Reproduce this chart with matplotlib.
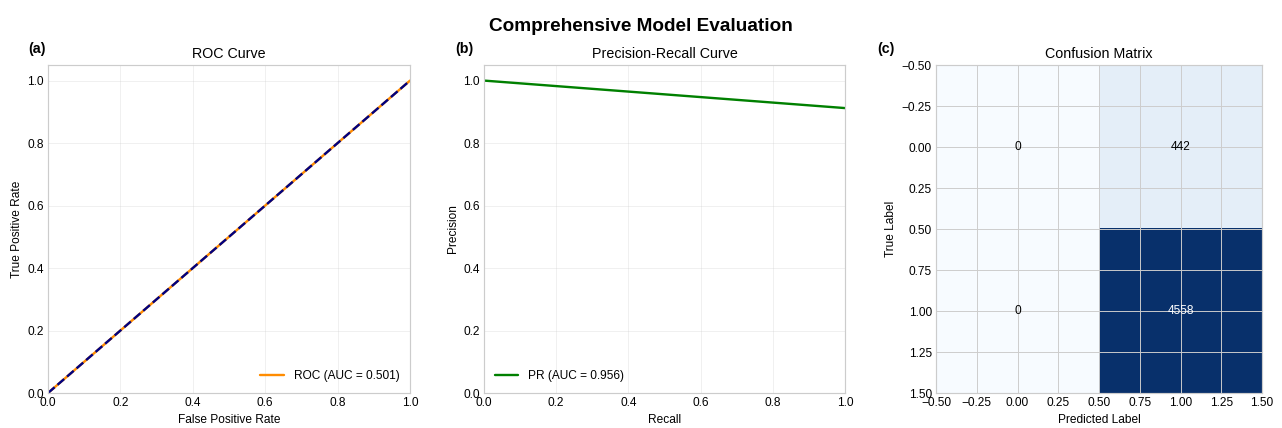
import matplotlib
matplotlib.use("Agg")
import matplotlib.pyplot as plt
import numpy as np

# data
fpr = [0.0, 1.0]
tpr = [0.0, 1.0]
roc_auc = 0.501

recall = [0.0, 1.0]
precision = [1.0, 0.912]
pr_auc = 0.956

cm = np.array([[0, 442],
               [0, 4558]])

plt.style.use("seaborn-v0_8-whitegrid")
plt.rcParams["font.family"] = ["Liberation Sans", "DejaVu Sans"]
plt.rcParams["text.color"] = "black"
plt.rcParams["axes.labelcolor"] = "black"
plt.rcParams["xtick.color"] = "black"
plt.rcParams["ytick.color"] = "black"

fig = plt.figure(figsize=(15, 5.008), dpi=85.47)
W, H = 1282, 428

def box(l, r, t, b):
    return [l / W, 1 - b / H, (r - l) / W, (b - t) / H]

ax1 = fig.add_axes(box(48, 410, 65, 393))
ax2 = fig.add_axes(box(484, 845, 65, 393))
ax3 = fig.add_axes(box(936, 1262, 65, 393))

# (a) ROC
ax1.plot(fpr, tpr, color="darkorange", lw=2, label=f"ROC (AUC = {roc_auc:.3f})")
ax1.plot([0, 1], [0, 1], color="navy", lw=2, linestyle="--")
ax1.set_xlim(0, 1)
ax1.set_ylim(0, 1.05)
ax1.set_xlabel("False Positive Rate")
ax1.set_ylabel("True Positive Rate")
ax1.set_title("ROC Curve")
ax1.legend(loc="lower right")
ax1.grid(True, alpha=0.3)

# (b) PR
ax2.plot(recall, precision, color="green", lw=2, label=f"PR (AUC = {pr_auc:.3f})")
ax2.set_xlim(0, 1)
ax2.set_ylim(0, 1.05)
ax2.set_xlabel("Recall")
ax2.set_ylabel("Precision")
ax2.set_title("Precision-Recall Curve")
ax2.legend(loc="lower left")
ax2.grid(True, alpha=0.3)

# (c) confusion matrix
ax3.imshow(cm, cmap="Blues", interpolation="nearest", aspect="auto")
thresh = cm.max() / 2
for i in range(cm.shape[0]):
    for j in range(cm.shape[1]):
        ax3.text(j, i, str(cm[i, j]), ha="center", va="center",
                 color="white" if cm[i, j] > thresh else "black")
ax3.set_xlabel("Predicted Label")
ax3.set_ylabel("True Label")
ax3.set_title("Confusion Matrix")

fig.text(28 / W, 1 - 49 / H, "(a)", fontsize=12, fontweight="bold", va="center")
fig.text(455 / W, 1 - 49 / H, "(b)", fontsize=12, fontweight="bold", va="center")
fig.text(877 / W, 1 - 49 / H, "(c)", fontsize=12, fontweight="bold", va="center")

fig.suptitle("Comprehensive Model Evaluation", fontsize=16, fontweight="bold", y=1 - 18 / H)

fig.savefig("out.png", dpi=85.47)
